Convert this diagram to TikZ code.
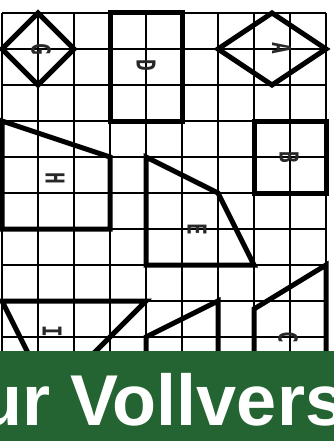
\documentclass[tikz,border=0pt]{standalone}
\usepackage{fontspec}
\usepackage{graphicx}
\setmainfont{Liberation Sans}
\newfontfamily\labfont{DejaVu Sans Mono}
\newfontfamily\banfont{Liberation Sans}
\definecolor{bannergreen}{RGB}{36,99,50}
\definecolor{labgray}{RGB}{40,40,40}
\begin{document}
\begin{tikzpicture}[x=1pt,y=-1pt,
  gridline/.style={line width=1.6pt, black},
  outline/.style={line width=5pt, black, line join=miter},
  lab/.style={rotate=-90, inner sep=0pt, text=labgray, font=\labfont\bfseries\fontsize{26}{26}\selectfont},
  bantext/.style={anchor=base west, inner sep=0pt, text=white, font=\banfont\bfseries\fontsize{72}{72}\selectfont}]
\useasboundingbox (0,0) rectangle (334,441);
% grid
\foreach \x in {2,38,...,326} \draw[gridline] (\x,13) -- (\x,351);
\foreach \y in {13,49,...,337} \draw[gridline] (2,\y) -- (326,\y);
% shapes
\draw[outline] (38,13) -- (74,49) -- (38,85) -- (2,49) -- cycle; % G
\draw[outline] (110,13) rectangle (182,121); % D
\draw[outline] (218,49) -- (272,13) -- (326,49) -- (272,85) -- cycle; % A
\draw[outline] (254,121) rectangle (326,193); % B
\draw[outline] (2,121) -- (110,157) -- (110,229) -- (2,229) -- cycle; % H
\draw[outline] (146,157) -- (218,193) -- (254,265) -- (146,265) -- cycle; % E
\draw[outline] (2,301) -- (146,301) -- (74,373) -- (38,373) -- cycle; % I
\draw[outline] (146,337) -- (218,301) -- (218,400) -- (146,400) -- cycle; % F
\draw[outline] (254,309) -- (326,265) -- (326,400) -- (254,400) -- cycle; % C
% labels
\node[lab] (labG) at (41,49) {\scalebox{0.75}[1]{G}};
\node[lab] (labD) at (146,65.5) {\scalebox{0.75}[1]{D}};
\node[lab] (labA) at (281.5,48.5) {\scalebox{0.75}[1]{A}};
\node[lab] (labB) at (289,157) {\scalebox{0.75}[1]{B}};
\node[lab] (labH) at (55,178) {\scalebox{0.75}[1]{H}};
\node[lab] (labE) at (197,229) {\scalebox{0.75}[1]{E}};
\node[lab] (labI) at (52,331) {\scalebox{0.75}[1]{I}};
\node[lab] (labC) at (288,337) {\scalebox{0.75}[1]{C}};
% banner
\fill[bannergreen] (0,351) rectangle (334,441);
\begin{scope}
\clip (0,351) rectangle (334,441);
\node[bantext] (banner) at (-22,425) {ur Vollvers};
\end{scope}
\end{tikzpicture}
\end{document}
